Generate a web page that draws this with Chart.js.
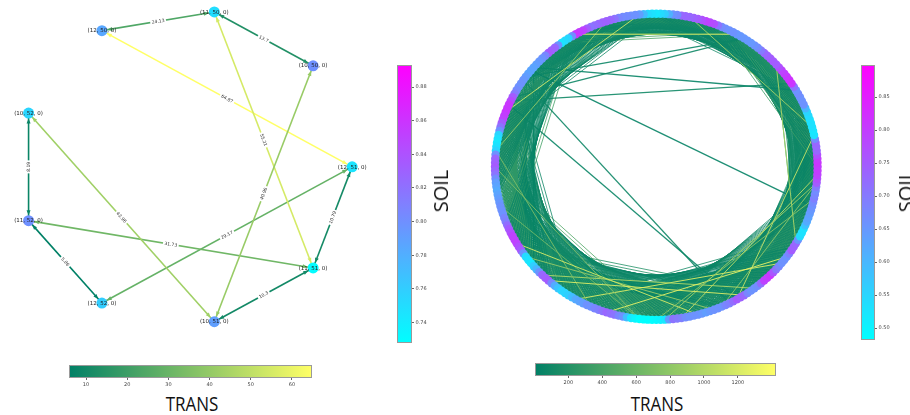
<!DOCTYPE html>
<html lang="en">
<head>
<meta charset="UTF-8">
<title>SOIL / TRANS networks</title>
<script src="https://cdn.jsdelivr.net/npm/chart.js"></script>
<style>
    body {
        margin: 0;
        width: 910px;
        height: 415px;
        overflow: hidden;
        position: relative;
        background: #fff;
        font-family: "Open Sans", sans-serif;
    }
    canvas { position: absolute; }
    .lbl {
        position: absolute;
        font-size: 20px;
        color: #111;
        white-space: nowrap;
        line-height: 1;
    }
</style>
</head>
<body>
<canvas id="leftGraph" width="380" height="340" style="left:0px;top:0px"></canvas>
<canvas id="leftSoil" width="50" height="290" style="left:392px;top:60px"></canvas>
<canvas id="leftTrans" width="255" height="30" style="left:64px;top:360px"></canvas>
<canvas id="rightGraph" width="370" height="340" style="left:475px;top:0px"></canvas>
<canvas id="rightSoil" width="55" height="290" style="left:855px;top:60px"></canvas>
<canvas id="rightTrans" width="255" height="30" style="left:530px;top:358px"></canvas>

<div class="lbl" style="left:441px;top:191px;transform:translate(-50%,-50%) rotate(-90deg)">SOIL</div>
<div class="lbl" style="left:906px;top:191px;transform:translate(-50%,-50%) rotate(-90deg)">SOIL</div>
<div class="lbl" style="left:192px;top:404px;transform:translate(-50%,-50%) scaleX(0.85)">TRANS</div>
<div class="lbl" style="left:657px;top:404px;transform:translate(-50%,-50%) scaleX(0.85)">TRANS</div>

<script>
    // ---- left graph: 9 grid nodes in circular layout order ----
    const leftNodes = ['(12, 51, 0)', '(10, 50, 0)', '(11, 50, 0)', '(12, 50, 0)', '(10, 52, 0)',
                       '(11, 52, 0)', '(12, 52, 0)', '(10, 51, 0)', '(11, 51, 0)'];
    const leftSoil = [0.745, 0.80, 0.75, 0.785, 0.755, 0.80, 0.76, 0.79, 0.73];
    const leftEdgeFrom = [1, 2, 7, 8, 4, 5, 1, 7, 2, 8, 3, 0];
    const leftEdgeTo   = [2, 3, 8, 0, 5, 6, 7, 4, 8, 5, 0, 6];
    const leftTrans    = [13.7, 24.13, 10.3, 10.79, 8.19, 5.86, 40.96, 42.96, 55.21, 31.73, 64.87, 29.17];

    const leftSoilRange = [0.7278, 0.8931];
    const leftSoilTicks = [0.74, 0.76, 0.78, 0.80, 0.82, 0.84, 0.86, 0.88];
    const leftTransRange = [5.86, 64.87];
    const leftTransTicks = [10, 20, 30, 40, 50, 60];

    // ---- right graph: ring of nodes (counter-clockwise from the right) ----
    const rightSoil = [
        0.80, 0.81, 0.80, 0.77, 0.73, 0.73, 0.73, 0.67, 0.53, 0.52, 0.53, 0.53, 0.53, 0.54, 0.55, 0.60, 0.66, 0.66, 0.66, 0.67,
        0.66, 0.71, 0.81, 0.82, 0.81, 0.80, 0.79, 0.77, 0.75, 0.75, 0.75, 0.74, 0.73, 0.70, 0.67, 0.66, 0.65, 0.65, 0.65, 0.65,
        0.65, 0.66, 0.66, 0.66, 0.67, 0.71, 0.77, 0.78, 0.79, 0.77, 0.75, 0.74, 0.73, 0.73, 0.73, 0.67, 0.66, 0.61, 0.56, 0.54,
        0.52, 0.53, 0.54, 0.59, 0.64, 0.66, 0.66, 0.67, 0.67, 0.68, 0.71, 0.73, 0.74, 0.74, 0.73, 0.72, 0.71, 0.75, 0.79, 0.80,
        0.81, 0.67, 0.55, 0.54, 0.53, 0.66, 0.73, 0.74, 0.75, 0.68, 0.66, 0.65, 0.64, 0.63, 0.63, 0.63, 0.64, 0.65, 0.66, 0.66,
        0.67, 0.70, 0.75, 0.78, 0.81, 0.81, 0.81, 0.80, 0.79, 0.75, 0.71, 0.66, 0.55, 0.53, 0.52, 0.53, 0.55, 0.66, 0.73, 0.74,
        0.75, 0.73, 0.71, 0.67, 0.64, 0.63, 0.62, 0.63, 0.64, 0.65, 0.66, 0.66, 0.66, 0.68, 0.69, 0.72, 0.75, 0.77, 0.79, 0.79,
        0.79, 0.77, 0.75, 0.66, 0.54, 0.53, 0.52, 0.56, 0.60, 0.66, 0.73, 0.74, 0.75, 0.68, 0.62, 0.58, 0.55, 0.55, 0.56, 0.59,
        0.62, 0.63, 0.64, 0.66, 0.66, 0.68, 0.69, 0.71, 0.73, 0.72, 0.71, 0.68, 0.66, 0.59, 0.52, 0.50, 0.48, 0.48, 0.48, 0.48,
        0.49, 0.50, 0.52, 0.64, 0.71, 0.70, 0.69, 0.67, 0.66, 0.66, 0.66, 0.65, 0.64, 0.65, 0.66, 0.66, 0.66, 0.68, 0.69, 0.72,
        0.75, 0.74, 0.73, 0.68, 0.66, 0.66, 0.67, 0.72, 0.79, 0.80, 0.81, 0.76, 0.71, 0.68, 0.66, 0.66, 0.66, 0.69, 0.75, 0.74,
        0.73, 0.66, 0.54, 0.53, 0.53, 0.58, 0.62, 0.63, 0.64, 0.65, 0.66, 0.67, 0.69, 0.68, 0.67, 0.70, 0.75, 0.77, 0.79, 0.80
    ];
    // bands of neighbouring chords: [fromStart, toStart, count, toStep, trans]
    const rightRibbons = [
        [0, 42, 20, 1, 80],     [10, 38, 20, 1, 150],   [0, 46, 20, -1, 350],   [5, 41, 20, 1, 60],
        [20, 60, 20, 1, 60],    [30, 56, 20, 1, 220],   [20, 64, 20, -1, 120],  [25, 59, 20, 1, 90],
        [40, 80, 20, 1, 90],    [50, 76, 20, 1, 140],   [40, 84, 20, -1, 420],  [45, 79, 20, 1, 50],
        [60, 108, 20, 1, 70],   [70, 104, 20, 1, 180],  [60, 112, 20, -1, 110], [65, 107, 20, 1, 80],
        [80, 134, 20, 1, 50],   [90, 130, 20, 1, 260],  [80, 138, 20, -1, 380], [85, 133, 20, 1, 60],
        [100, 156, 20, 1, 100], [110, 152, 20, 1, 160], [100, 160, 20, -1, 90], [105, 155, 20, 1, 70],
        [120, 178, 20, 1, 70],  [130, 174, 20, 1, 300], [120, 182, 20, -1, 450], [125, 177, 20, 1, 50],
        [140, 200, 20, 1, 60],  [150, 196, 20, 1, 130], [140, 204, 20, -1, 200], [145, 199, 20, 1, 90],
        [160, 218, 20, 1, 90],  [170, 214, 20, 1, 240], [160, 222, 20, -1, 120], [165, 217, 20, 1, 60],
        [180, 230, 20, 1, 50],  [190, 226, 20, 1, 170], [180, 234, 20, -1, 500], [185, 229, 20, 1, 80],
        [200, 246, 20, 1, 110], [210, 242, 20, 1, 90],  [200, 250, 20, -1, 260], [205, 245, 20, 1, 60],
        [220, 264, 20, 1, 70],  [230, 260, 20, 1, 200], [220, 268, 20, -1, 140], [225, 263, 20, 1, 100]
    ];
    // long chords crossing the middle
    const rightLongFrom  = [104, 97, 94, 96, 102, 93, 103];
    const rightLongTo    = [200, 198, 230, 38, 38, 20, 22];
    const rightLongTrans = [60, 80, 40, 70, 90, 50, 100];
    // bright (high TRANS) chords
    const rightHiFrom  = [64, 40, 152, 182, 186, 180, 140, 144, 116, 220, 72, 200, 130, 168, 10, 120, 150, 160, 196];
    const rightHiTo    = [106, 80, 202, 236, 238, 232, 190, 194, 164, 28, 116, 8, 176, 216, 52, 176, 205, 214, 236];
    const rightHiTrans = [1150, 1380, 1250, 900, 1050, 760, 1200, 850, 700, 980, 820, 1100, 640, 1300, 900, 700, 1000, 1250, 800];

    const rightSoilRange = [0.482, 0.8985];
    const rightSoilTicks = [0.50, 0.55, 0.60, 0.65, 0.70, 0.75, 0.80, 0.85];
    const rightTransRange = [3, 1425];
    const rightTransTicks = [200, 400, 600, 800, 1000, 1200];

    // ---- colormaps ----
    const clamp = t => Math.max(0, Math.min(1, t));
    function summer(t, a = 1) {
        t = clamp(t);
        return `rgba(${Math.round(255 * t)},${Math.round(255 * (0.5 + 0.5 * t))},102,${a})`;
    }
    function cool(t, a = 1) {
        t = clamp(t);
        return `rgba(${Math.round(255 * t)},${Math.round(255 * (1 - t))},255,${a})`;
    }
    const cmaps = { summer, cool };
    const norm = (v, r) => (v - r[0]) / (r[1] - r[0]);

    const baseOpts = {
        responsive: false,
        animation: false,
        events: [],
        plugins: { legend: { display: false }, tooltip: { enabled: false } }
    };

    // ---- left graph ----
    const leftPos = leftNodes.map((_, i) => ({
        x: Math.cos(2 * Math.PI * i / leftNodes.length),
        y: Math.sin(2 * Math.PI * i / leftNodes.length)
    }));
    const NODE_R_LEFT = 5.5;

    function drawArrow(ctx, x1, y1, x2, y2, col) {
        const ang = Math.atan2(y2 - y1, x2 - x1);
        const tx = x2 - Math.cos(ang) * NODE_R_LEFT, ty = y2 - Math.sin(ang) * NODE_R_LEFT;
        const len = 5, hw = 2;
        const bx = tx - Math.cos(ang) * len, by = ty - Math.sin(ang) * len;
        ctx.beginPath();
        ctx.moveTo(tx, ty);
        ctx.lineTo(bx - Math.sin(ang) * hw, by + Math.cos(ang) * hw);
        ctx.lineTo(bx + Math.sin(ang) * hw, by - Math.cos(ang) * hw);
        ctx.closePath();
        ctx.fillStyle = col;
        ctx.fill();
    }

    const leftGraphLabels = {
        id: 'leftGraphLabels',
        afterDatasetsDraw(chart) {
            const { ctx, scales: { x, y } } = chart;
            const px = i => [x.getPixelForValue(leftPos[i].x), y.getPixelForValue(leftPos[i].y)];
            ctx.save();
            leftEdgeFrom.forEach((f, k) => {
                const [x1, y1] = px(f), [x2, y2] = px(leftEdgeTo[k]);
                const col = summer(norm(leftTrans[k], leftTransRange));
                drawArrow(ctx, x1, y1, x2, y2, col);
                drawArrow(ctx, x2, y2, x1, y1, col);
            });
            // edge labels
            ctx.font = '4.5px "DejaVu Sans"';
            ctx.textAlign = 'center';
            ctx.textBaseline = 'middle';
            leftEdgeFrom.forEach((f, k) => {
                const [x1, y1] = px(f), [x2, y2] = px(leftEdgeTo[k]);
                let ang = Math.atan2(y2 - y1, x2 - x1);
                if (ang > Math.PI / 2) ang -= Math.PI;
                if (ang < -Math.PI / 2) ang += Math.PI;
                const txt = String(leftTrans[k]);
                const w = ctx.measureText(txt).width;
                ctx.save();
                ctx.translate((x1 + x2) / 2, (y1 + y2) / 2);
                ctx.rotate(ang);
                ctx.fillStyle = '#fff';
                ctx.fillRect(-w / 2 - 1.5, -3.5, w + 3, 7);
                ctx.fillStyle = '#333';
                ctx.fillText(txt, 0, 0.3);
                ctx.restore();
            });
            // node labels
            ctx.font = '5.5px "DejaVu Sans"';
            ctx.fillStyle = '#222';
            leftNodes.forEach((name, i) => {
                const [nx, ny] = px(i);
                ctx.fillText(name, nx, ny + 0.3);
            });
            ctx.restore();
        }
    };

    new Chart(document.getElementById('leftGraph'), {
        type: 'scatter',
        data: {
            datasets: [
                {
                    data: leftPos,
                    order: 0,
                    pointRadius: NODE_R_LEFT,
                    pointBorderWidth: 0,
                    pointBackgroundColor: leftSoil.map(v => cool(norm(v, leftSoilRange))),
                    showLine: false
                },
                ...leftEdgeFrom.map((f, k) => ({
                    data: [leftPos[f], leftPos[leftEdgeTo[k]]],
                    order: 1,
                    showLine: true,
                    pointRadius: 0,
                    borderWidth: 1.6,
                    borderColor: summer(norm(leftTrans[k], leftTransRange))
                }))
            ]
        },
        options: {
            ...baseOpts,
            layout: { padding: 0 },
            scales: {
                x: { type: 'linear', min: -1.078, max: 1.134, display: false },
                y: { type: 'linear', min: -1.066, max: 1.026, display: false }
            }
        },
        plugins: [leftGraphLabels]
    });

    // ---- right graph ----
    const N_RIGHT = rightSoil.length;
    const rightPos = rightSoil.map((_, i) => ({
        x: Math.cos(2 * Math.PI * i / N_RIGHT),
        y: Math.sin(2 * Math.PI * i / N_RIGHT)
    }));
    const wrap = i => ((i % N_RIGHT) + N_RIGHT) % N_RIGHT;
    const GAP = { x: null, y: null };

    // one dataset per band, segments separated by gaps
    const rightSets = [];
    rightRibbons.forEach(([f0, t0, n, step, tr]) => {
        const pts = [];
        for (let j = 0; j < n; j++) pts.push(rightPos[wrap(f0 + j)], rightPos[wrap(t0 + step * j)], GAP);
        rightSets.push({ data: pts, order: 3, borderWidth: 1, borderColor: summer(norm(tr, rightTransRange), 0.8) });
    });
    rightLongFrom.forEach((f, k) => rightSets.push({
        data: [rightPos[f], rightPos[rightLongTo[k]]], order: 2, borderWidth: 1.3,
        borderColor: summer(norm(rightLongTrans[k], rightTransRange), 0.9)
    }));
    rightHiFrom.forEach((f, k) => rightSets.push({
        data: [rightPos[f], rightPos[rightHiTo[k]]], order: 1, borderWidth: 1,
        borderColor: summer(norm(rightHiTrans[k], rightTransRange), 0.9)
    }));

    new Chart(document.getElementById('rightGraph'), {
        type: 'scatter',
        data: {
            datasets: [
                {
                    data: rightPos,
                    order: 0,
                    pointRadius: 4.2,
                    pointBorderWidth: 0,
                    pointBackgroundColor: rightSoil.map(v => cool(norm(v, rightSoilRange))),
                    showLine: false
                },
                ...rightSets.map(s => ({ ...s, showLine: true, spanGaps: false, pointRadius: 0 }))
            ]
        },
        options: {
            ...baseOpts,
            layout: { padding: 0 },
            scales: {
                x: { type: 'linear', min: -1.098, max: 1.144, display: false },
                y: { type: 'linear', min: -1.104, max: 1.062, display: false }
            }
        }
    });

    // ---- colorbars ----
    const colorbarFill = {
        id: 'colorbarFill',
        beforeDatasetsDraw(chart, args, opts) {
            const { ctx, chartArea: a } = chart;
            const fn = cmaps[opts.cmap];
            const g = opts.vertical
                ? ctx.createLinearGradient(0, a.bottom, 0, a.top)
                : ctx.createLinearGradient(a.left, 0, a.right, 0);
            for (let i = 0; i <= 20; i++) g.addColorStop(i / 20, fn(i / 20));
            ctx.save();
            ctx.fillStyle = g;
            ctx.fillRect(a.left, a.top, a.right - a.left, a.bottom - a.top);
            ctx.strokeStyle = '#9a9a9a';
            ctx.lineWidth = 1;
            ctx.strokeRect(a.left + 0.5, a.top + 0.5, a.right - a.left - 1, a.bottom - a.top - 1);
            ctx.restore();
        }
    };

    function makeColorbar(id, cmap, vertical, range, ticks, pad, axisSize, decimals) {
        const axis = {
            type: 'linear',
            min: range[0],
            max: range[1],
            position: vertical ? 'right' : 'bottom',
            afterBuildTicks: s => { s.ticks = ticks.map(v => ({ value: v })); },
            ticks: {
                font: { size: 5, family: '"DejaVu Sans"' },
                color: '#444',
                padding: 1.5,
                maxRotation: 0,
                autoSkip: false,
                callback: v => v.toFixed(decimals)
            },
            grid: { drawOnChartArea: false, drawTicks: true, tickLength: 2, color: '#666' },
            border: { display: false },
            afterFit: s => { if (vertical) s.width = axisSize; else s.height = axisSize; }
        };
        const hidden = { type: 'linear', display: false };
        new Chart(document.getElementById(id), {
            type: 'scatter',
            data: { datasets: [] },
            options: {
                ...baseOpts,
                layout: { padding: pad },
                scales: vertical ? { x: hidden, y: axis } : { x: axis, y: hidden },
                plugins: { ...baseOpts.plugins, colorbarFill: { cmap, vertical } }
            },
            plugins: [colorbarFill]
        });
    }

    makeColorbar('leftSoil', 'cool', true, leftSoilRange, leftSoilTicks,
        { left: 5, top: 5, bottom: 7, right: 0 }, 30, 2);
    makeColorbar('rightSoil', 'cool', true, rightSoilRange, rightSoilTicks,
        { left: 6, top: 5, bottom: 10, right: 0 }, 35, 2);
    makeColorbar('leftTrans', 'summer', false, leftTransRange, leftTransTicks,
        { left: 5, top: 5, right: 7, bottom: 0 }, 12, 0);
    makeColorbar('rightTrans', 'summer', false, rightTransRange, rightTransTicks,
        { left: 5, top: 5, right: 9, bottom: 0 }, 12, 0);
</script>
</body>
</html>
